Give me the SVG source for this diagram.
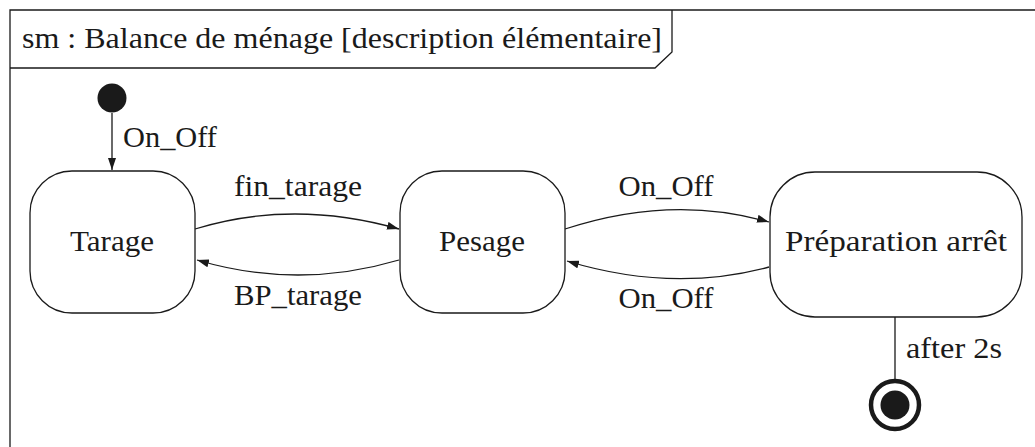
<svg xmlns="http://www.w3.org/2000/svg" width="1035" height="447" viewBox="0 0 1035 447">
<defs>
<marker id="arr" viewBox="0 0 12 8" refX="12" refY="4" markerWidth="12" markerHeight="8" markerUnits="userSpaceOnUse" orient="auto">
<path d="M0,0 L12,4 L0,8 Z" fill="#1a1a1a"/>
</marker>
</defs>
<style>
text{font-family:"Liberation Serif","DejaVu Serif",serif;fill:#1a1a1a;font-size:28.5px}
.st{fill:#fff;stroke:#1a1a1a;stroke-width:1.3}
.c{fill:none;stroke:#1a1a1a;stroke-width:1.3}
.fr{fill:none;stroke:#1a1a1a;stroke-width:1.3}
</style>
<rect width="1035" height="447" fill="#fff"/>
<g id="frame">
<path class="fr" d="M10,447 L10,10 L1035,10"/>
<path class="fr" d="M10,68 L655,68 L672,52 L672,10"/>
<text x="22" y="48" textLength="640" lengthAdjust="spacingAndGlyphs">sm : Balance de ménage [description élémentaire]</text>
</g>
<g id="connectors">
<path class="c" d="M112,113 L112,170" marker-end="url(#arr)"/>
<text x="123" y="147" textLength="94" lengthAdjust="spacingAndGlyphs">On_Off</text>
<path class="c" d="M195,229 Q293,199 399,229" marker-end="url(#arr)"/>
<text x="298" y="196" text-anchor="middle" textLength="128" lengthAdjust="spacingAndGlyphs">fin_tarage</text>
<path class="c" d="M399,260 Q298,290 197,260" marker-end="url(#arr)"/>
<text x="298" y="305" text-anchor="middle" textLength="128" lengthAdjust="spacingAndGlyphs">BP_tarage</text>
<path class="c" d="M565,229 Q672,194 769,222" marker-end="url(#arr)"/>
<text x="666" y="196" text-anchor="middle" textLength="95" lengthAdjust="spacingAndGlyphs">On_Off</text>
<path class="c" d="M769,267 Q672,293 567,261" marker-end="url(#arr)"/>
<text x="666" y="308" text-anchor="middle" textLength="95" lengthAdjust="spacingAndGlyphs">On_Off</text>
<path class="c" d="M895,317 L895,380"/>
<text x="906" y="358" textLength="96" lengthAdjust="spacingAndGlyphs">after 2s</text>
</g>
<g id="initial">
<circle cx="112" cy="98" r="14.5" fill="#1a1a1a"/>
</g>
<g id="tarage">
<rect class="st" x="30" y="171" width="165" height="142" rx="42"/>
<text x="112" y="251" text-anchor="middle" textLength="84" lengthAdjust="spacingAndGlyphs">Tarage</text>
</g>
<g id="pesage">
<rect class="st" x="400" y="171" width="165" height="142" rx="42"/>
<text x="482" y="251" text-anchor="middle" textLength="86" lengthAdjust="spacingAndGlyphs">Pesage</text>
</g>
<g id="preparation">
<rect class="st" x="770" y="172" width="252" height="145" rx="45"/>
<text x="896" y="251" text-anchor="middle" textLength="222" lengthAdjust="spacingAndGlyphs">Préparation arrêt</text>
</g>
<g id="final">
<circle cx="895" cy="405" r="24" fill="none" stroke="#1a1a1a" stroke-width="4.5"/>
<circle cx="895" cy="405" r="14.5" fill="#1a1a1a"/>
</g>
</svg>
